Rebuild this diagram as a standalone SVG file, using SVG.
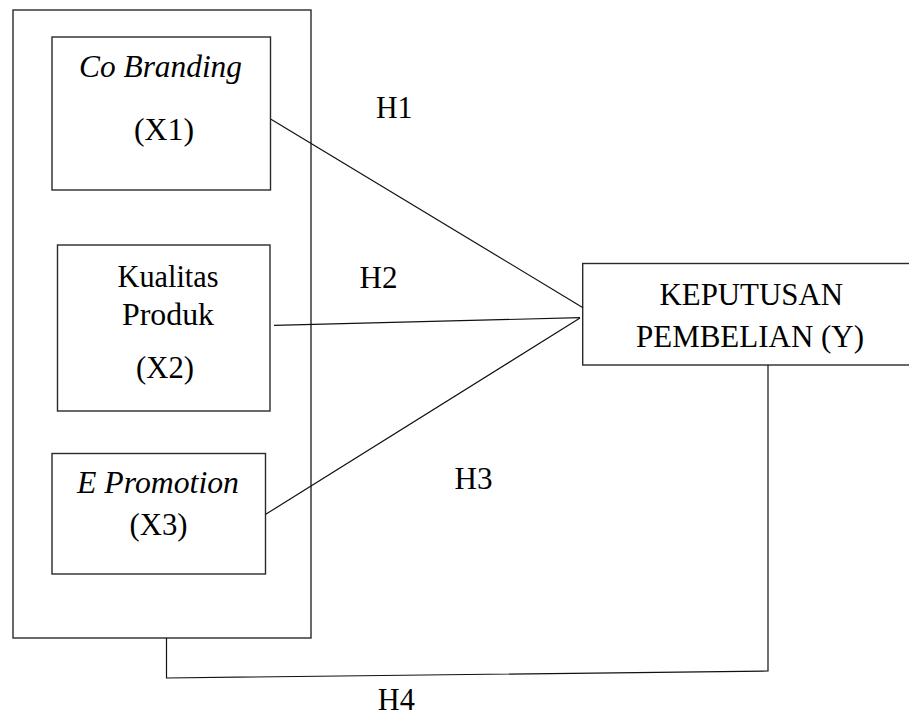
<svg xmlns="http://www.w3.org/2000/svg" width="909" height="715" viewBox="0 0 909 715">
<style>
.box{fill:none;stroke:#2a2a2a;stroke-width:1.4}
.ln{fill:none;stroke:#111;stroke-width:1.2}
.t{font-size:31px;fill:#000}
.it{font-style:italic}
</style>
<rect width="909" height="715" fill="#fff"/>
<g font-family="'Liberation Serif', 'Times New Roman', 'DejaVu Serif', serif">
<g id="outer"><rect class="box" x="13" y="10" width="298" height="628"/></g>
<g id="x1">
<rect class="box" x="52" y="37" width="218.5" height="153"/>
<text class="t it" x="79" y="77" textLength="163" lengthAdjust="spacingAndGlyphs">Co Branding</text>
<text class="t" x="134" y="140" textLength="60" lengthAdjust="spacingAndGlyphs">(X1)</text>
</g>
<g id="x2">
<rect class="box" x="57.5" y="245" width="212.5" height="166"/>
<text class="t" x="117.5" y="286.7" textLength="101" lengthAdjust="spacingAndGlyphs">Kualitas</text>
<text class="t" x="122" y="325" textLength="92" lengthAdjust="spacingAndGlyphs">Produk</text>
<text class="t" x="136" y="378" textLength="58" lengthAdjust="spacingAndGlyphs">(X2)</text>
</g>
<g id="x3">
<rect class="box" x="52" y="453.5" width="213.5" height="120.5"/>
<text class="t it" x="77" y="493" textLength="162" lengthAdjust="spacingAndGlyphs">E Promotion</text>
<text class="t" x="129.5" y="535" textLength="58" lengthAdjust="spacingAndGlyphs">(X3)</text>
</g>
<g id="y">
<rect class="box" x="582.7" y="263.5" width="340" height="101.5"/>
<text class="t" x="659.5" y="305" textLength="183.5" lengthAdjust="spacingAndGlyphs">KEPUTUSAN</text>
<text class="t" x="636" y="346.7" textLength="228" lengthAdjust="spacingAndGlyphs">PEMBELIAN (Y)</text>
</g>
<g id="connectors">
<line class="ln" x1="271" y1="119.3" x2="583" y2="307.7"/>
<line class="ln" x1="274" y1="325.3" x2="580" y2="317.7"/>
<line class="ln" x1="265.7" y1="514.3" x2="580" y2="318"/>
<polyline class="ln" points="166.5,638 166.5,678 768,671 768,365"/>
</g>
<g id="labels">
<text class="t" x="376" y="118" textLength="36.5" lengthAdjust="spacingAndGlyphs">H1</text>
<text class="t" x="359.5" y="288" textLength="38" lengthAdjust="spacingAndGlyphs">H2</text>
<text class="t" x="454.5" y="489" textLength="38" lengthAdjust="spacingAndGlyphs">H3</text>
<text class="t" x="377.8" y="709.5" font-size="30" textLength="37" lengthAdjust="spacingAndGlyphs">H4</text>
</g>
</g>
</svg>
